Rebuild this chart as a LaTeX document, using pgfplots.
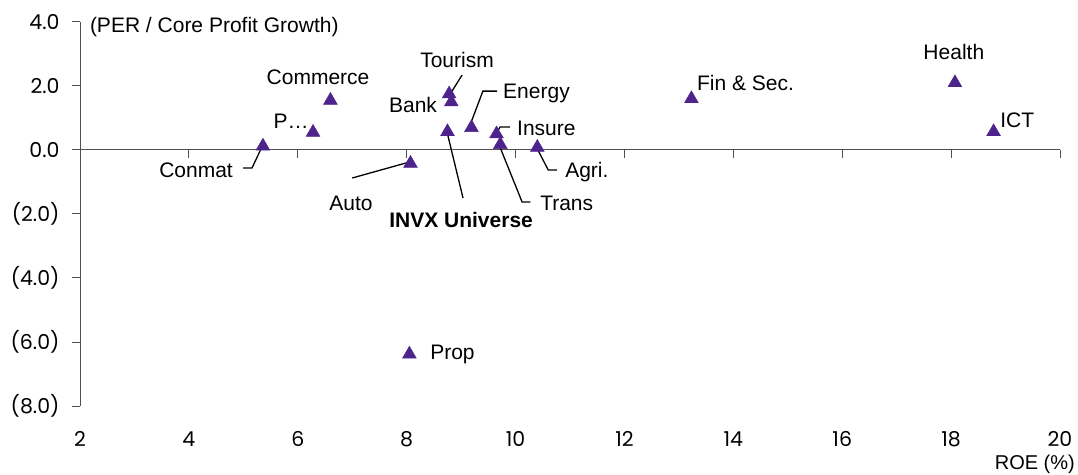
\documentclass[border=0pt]{standalone}
\usepackage{fontspec}
\setmainfont{Liberation Sans}
\newfontfamily\tickfont{Poppins}
\usepackage{pgfplots}
\pgfplotsset{compat=1.18}
\definecolor{mk}{RGB}{78,36,140}
\definecolor{ax}{RGB}{80,80,80}
\newcommand\lf{\fontsize{21}{25}\selectfont}
\newcommand\tf{\tickfont\fontsize{20.5}{24}\selectfont}
\begin{document}
\begin{tikzpicture}
\path[use as bounding box] (-80pt,-68pt) rectangle (998pt,406pt);
\begin{axis}[
  at={(0,0)}, anchor=south west,
  scale only axis, width=980pt, height=384pt,
  xmin=2, xmax=20, ymin=-8, ymax=4,
  clip=false,
  separate axis lines,
  axis y line*=left, axis x line*=bottom,
  x axis line style={draw=none},
  y axis line style={ax, line width=1pt},
  xtick={2,4,...,20},
  xtick style={draw=none},
  ytick={-8,-6,...,4},
  yticklabels={(8.0),(6.0),(4.0),(2.0),0.0,2.0,4.0},
  ytick style={ax, line width=1pt},
  tick align=outside,
  major tick length=8pt,
  /pgf/number format/assume math mode=true,
  ticklabel style={font=\tf},
  xticklabel style={yshift=-14pt},
  yticklabel style={xshift=-9pt},
]
\draw[ax, line width=1pt] (axis cs:2,0) -- (axis cs:20,0);
\pgfplotsinvokeforeach{4,6,...,20}{\draw[ax, line width=1pt] (axis cs:#1,0) -- (axis cs:#1,-0.24);}
\addplot[only marks, mark=triangle*, mark size=8pt, color=mk] table {
x y
5.36 0.12
6.28 0.55
6.60 1.55
8.78 1.75
8.82 1.50
8.75 0.57
9.19 0.70
9.65 0.50
9.72 0.17
10.40 0.08
8.07 -0.42
8.05 -6.38
13.23 1.60
18.07 2.10
18.78 0.57
};
% leader lines
\draw[black, line width=1.3pt] (axis cs:9.017,2.34) -- (axis cs:8.80,1.75);
\draw[black, line width=1.3pt] (axis cs:9.66,1.84) -- (axis cs:9.40,1.84) -- (axis cs:9.18,0.85);
\draw[black, line width=1.3pt] (axis cs:9.90,0.72) -- (axis cs:9.715,0.72) -- (axis cs:9.66,0.55);
\draw[black, line width=1.3pt] (axis cs:10.76,-0.625) -- (axis cs:10.60,-0.625) -- (axis cs:10.41,0.0);
\draw[black, line width=1.3pt] (axis cs:10.27,-1.625) -- (axis cs:10.12,-1.625) -- (axis cs:9.70,0.15);
\draw[black, line width=1.3pt] (axis cs:9.035,-1.5) -- (axis cs:8.75,0.5);
\draw[black, line width=1.3pt] (axis cs:7.0,-0.875) -- (axis cs:8.0,-0.4);
\draw[black, line width=1.3pt] (axis cs:4.994,-0.56) -- (axis cs:5.16,-0.56) -- (axis cs:5.34,0.09);
% labels
\node[font=\lf] at (axis cs:8.925,2.81) {Tourism};
\node[font=\lf] at (axis cs:6.372,2.28) {Commerce};
\node[font=\lf] at (axis cs:8.117,1.41) {Bank};
\node[font=\lf] at (axis cs:5.876,0.91) {P…};
\node[font=\lf, anchor=west, inner sep=0pt] at (axis cs:9.77,1.78) {Energy};
\node[font=\lf, anchor=west, inner sep=0pt] at (axis cs:10.027,0.69) {Insure};
\node[font=\lf, anchor=west, inner sep=0pt] at (axis cs:10.91,-0.69) {Agri.};
\node[font=\lf, anchor=west, inner sep=0pt] at (axis cs:10.45,-1.66) {Trans};
\node[font=\lf\bfseries] at (axis cs:9.0,-2.19) {INVX Universe};
\node[font=\lf] at (axis cs:6.978,-1.66) {Auto};
\node[font=\lf, anchor=east, inner sep=0pt] at (axis cs:4.81,-0.625) {Conmat};
\node[font=\lf, anchor=west, inner sep=0pt] at (axis cs:13.33,2.09) {Fin \& Sec.};
\node[font=\lf] at (axis cs:18.05,3.06) {Health};
\node[font=\lf, anchor=west, inner sep=0pt] at (axis cs:18.90,0.94) {ICT};
\node[font=\lf, anchor=west, inner sep=0pt] at (axis cs:8.43,-6.375) {Prop};
\node[font=\lf, anchor=west, inner sep=0pt] at (axis cs:2.18,3.84) {(PER / Core Profit Growth)};
\node[font=\fontsize{20}{24}\selectfont, anchor=east, inner sep=0pt] at (axis cs:20,-8) [xshift=15pt, yshift=-58pt] {ROE (\%)};
\end{axis}
\end{tikzpicture}
\end{document}
